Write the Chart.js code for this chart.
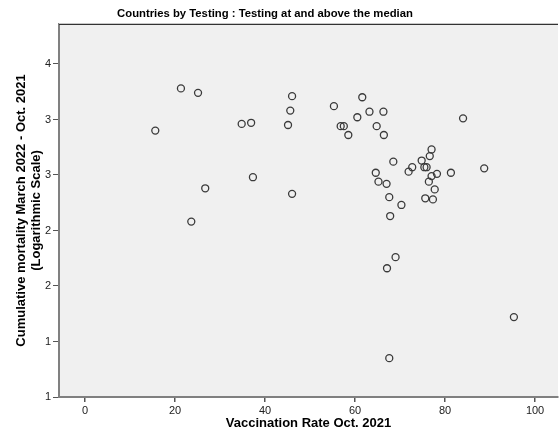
<!DOCTYPE html>
<html>
<head>
<meta charset="utf-8">
<script src="https://cdn.jsdelivr.net/npm/chart.js@4/dist/chart.umd.min.js"></script>
<style>
  html, body { margin: 0; padding: 0; background: #fff; }
  canvas { display: block; }
</style>
</head>
<body>
<canvas id="scatterChart" width="559" height="441"></canvas>
<script>
// Chart data
const vaccination = [21.3, 25.1, 46.0, 45.6, 15.6, 34.8, 36.9, 45.1, 37.3, 26.7, 46.0, 23.6,
  55.3, 61.6, 60.5, 63.2, 66.3, 56.8, 57.5, 58.5, 64.8, 66.4, 84.0,
  77.0, 76.6, 74.8, 68.5, 75.4, 75.9, 72.7, 71.9, 64.6, 88.7, 81.3, 78.2, 77.0, 76.4,
  65.2, 67.0, 77.7, 67.6, 75.6, 77.3, 70.3, 67.8,
  69.0, 67.1, 95.3, 67.6];
const mortality = [3.78, 3.74, 3.71, 3.58, 3.40, 3.46, 3.47, 3.45, 2.98, 2.88, 2.83, 2.58,
  3.62, 3.70, 3.52, 3.57, 3.57, 3.44, 3.44, 3.36, 3.44, 3.36, 3.51,
  3.23, 3.17, 3.13, 3.12, 3.07, 3.07, 3.07, 3.03, 3.02, 3.06, 3.02, 3.01, 2.99, 2.94,
  2.94, 2.92, 2.87, 2.80, 2.79, 2.78, 2.73, 2.63,
  2.26, 2.16, 1.72, 1.35];
const xTicks = [0, 20, 40, 60, 80, 100];
const yTicks = [1, 1.5, 2, 2.5, 3, 3.5, 4];

const chartTitle = 'Countries by Testing : Testing at and above the median';
const xTitle = 'Vaccination Rate Oct. 2021';
const yTitle = ['Cumulative mortality March 2022 - Oct. 2021', '(Logarithmic Scale)'];

const points = vaccination.map((v, i) => ({ x: v, y: mortality[i] }));

// grey plot area, dark top frame line and the chart title
const frame = {
  id: 'frame',
  beforeDraw(chart) {
    const { ctx, chartArea: a } = chart;
    ctx.save();
    ctx.fillStyle = '#f0f0f0';
    ctx.fillRect(a.left, a.top, a.right - a.left, a.bottom - a.top);
    ctx.restore();
  },
  afterDraw(chart) {
    const { ctx, chartArea: a } = chart;
    ctx.save();
    ctx.strokeStyle = '#c8c8c8';
    ctx.lineWidth = 1;
    ctx.beginPath(); ctx.moveTo(a.left, a.top - 0.5); ctx.lineTo(a.right, a.top - 0.5); ctx.stroke();
    ctx.strokeStyle = '#333';
    ctx.beginPath(); ctx.moveTo(a.left, a.top + 0.5); ctx.lineTo(a.right, a.top + 0.5); ctx.stroke();
    ctx.fillStyle = '#000';
    ctx.font = 'bold 11.3px "Liberation Sans", Arial, sans-serif';
    ctx.textAlign = 'center';
    ctx.textBaseline = 'middle';
    ctx.fillText(chartTitle, 265, 14);
    ctx.restore();
  }
};

new Chart(document.getElementById('scatterChart'), {
  type: 'scatter',
  data: {
    datasets: [{
      data: points,
      pointRadius: 3.5,
      pointHoverRadius: 3.5,
      borderWidth: 1.3,
      borderColor: '#3a3a3a',
      backgroundColor: 'rgba(0,0,0,0)'
    }]
  },
  options: {
    responsive: false,
    animation: false,
    layout: { autoPadding: false, padding: { top: 24, right: 1, left: 0, bottom: 0 } },
    plugins: { legend: { display: false }, tooltip: { enabled: false } },
    scales: {
      x: {
        type: 'linear',
        min: -5.8,
        max: 105.1,
        afterFit: (s) => { s.height = 44; },
        afterBuildTicks: (s) => { s.ticks = xTicks.map(v => ({ value: v })); },
        ticks: { color: '#222', font: { family: '"Liberation Sans", Arial, sans-serif', size: 11 }, padding: 2, maxRotation: 0 },
        grid: { display: true, drawOnChartArea: false, drawTicks: true, tickLength: 5, color: '#555', lineWidth: 1.5 },
        border: { display: true, color: '#808080', width: 2 },
        title: {
          display: true, text: xTitle, color: '#000',
          font: { family: '"Liberation Sans", Arial, sans-serif', size: 13, weight: 'bold', lineHeight: 1.15 },
          padding: { top: 0, bottom: 10 }
        }
      },
      y: {
        type: 'linear',
        min: 1,
        max: 4.36,
        afterFit: (s) => { s.width = 59; },
        afterBuildTicks: (s) => { s.ticks = yTicks.map(v => ({ value: v })); },
        ticks: {
          color: '#222', font: { family: '"Liberation Sans", Arial, sans-serif', size: 11 }, padding: 2,
          callback: (v) => Math.floor(v)
        },
        grid: { display: true, drawOnChartArea: false, drawTicks: true, tickLength: 6, color: '#555', lineWidth: 1 },
        border: { display: true, color: '#808080', width: 2 },
        title: {
          display: true, text: yTitle, color: '#000',
          font: { family: '"Liberation Sans", Arial, sans-serif', size: 13, weight: 'bold', lineHeight: 1.15 },
          padding: { top: 14, bottom: 0 }
        }
      }
    }
  },
  plugins: [frame]
});
</script>
</body>
</html>
